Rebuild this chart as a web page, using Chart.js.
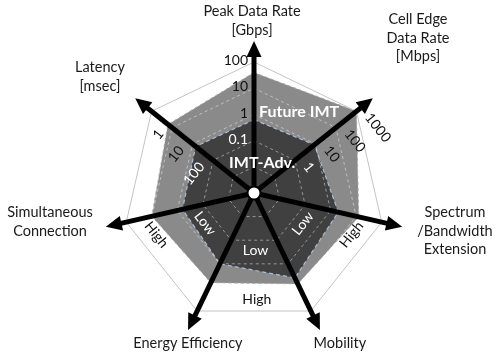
<!DOCTYPE html>
<html>
<head>
<meta charset="utf-8">
<script src="https://cdn.jsdelivr.net/npm/chart.js@4.4.0/dist/chart.umd.min.js"></script>
<style>
  html, body { margin: 0; padding: 0; background: #fff; }
  #wrap { width: 500px; height: 354px; position: relative; }
</style>
</head>
<body>
<div id="wrap"><canvas id="radar"></canvas></div>
<script>
// axis names, clockwise from the top arrow
const axisLabels = [
  ['Peak Data Rate', '[Gbps]'],
  ['Cell Edge', 'Data Rate', '[Mbps]'],
  ['Spectrum', '/Bandwidth', 'Extension'],
  ['Mobility'],
  ['Energy Efficiency'],
  ['Simultaneous', 'Connection'],
  ['Latency', '[msec]']
];

// values on the 0..5 ring scale
const futureIMT = [4.6, 5.0, 4.1, 3.85, 3.8, 4.0, 4.2];
const imtAdvanced = [2.8, 2.95, 3.3, 3.6, 3.0, 2.8, 2.85];

// tick labels of the numeric axes, ring 2 outward
const peakTicks = ['0.1', '1', '10', '100'];
const cellEdgeTicks = ['1', '10', '100', '1000'];
const latencyTicks = ['100', '10', '1'];
const levelTicks = ['Low', 'High'];

// layout of the overlay texts (label centres in units of the radius)
const labelSpots = [
  [-0.015, -1.313], [1.252, -1.183], [1.534, 0.29], [0.656, 1.145],
  [-0.504, 1.145], [-1.557, 0.221], [-1.176, -0.885]
];
const levelPairs = [
  { sector: 2, fracs: [0.37, 0.2] },
  { sector: 3, fracs: [0.47, 0.47] },
  { sector: 4, fracs: [0.63, 0.8] }
];
const levelRings = [2.2, 4.05];
const nameSpots = [{ angle: 29, level: 3.55 }, { angle: 15, level: 1.2 }];

const FONT = 'Lato, "Noto Sans", sans-serif';

function drawAxisTicks(chart, idx, ticks, side, gap, shift) {
  const s = chart.scales.r;
  const ctx = chart.ctx;
  ctx.save();
  ctx.translate(s.xCenter, s.yCenter);
  ctx.rotate(s.getIndexAngle(idx));
  ctx.font = '14px ' + FONT;
  ctx.textBaseline = 'middle';
  ctx.textAlign = side < 0 ? 'right' : 'left';
  ticks.forEach((t, k) => {
    const level = k + 2;
    ctx.fillStyle = level < imtAdvanced[idx] ? '#fff' : '#111';
    ctx.fillText(t, side * gap, -s.getDistanceFromCenterForValue(level + shift));
  });
  ctx.restore();
}

const overlay = {
  id: 'overlay',
  afterDraw(chart) {
    const s = chart.scales.r;
    const ctx = chart.ctx;
    const R = s.drawingArea;
    const xc = s.xCenter, yc = s.yCenter;

    // tick labels
    drawAxisTicks(chart, 0, peakTicks, -1, 6, 0.05);
    drawAxisTicks(chart, 1, cellEdgeTicks, 1, 10, 0.25);
    drawAxisTicks(chart, 6, latencyTicks, -1, 10, 0.25);

    ctx.save();
    ctx.font = '14px ' + FONT;
    ctx.textAlign = 'center';
    ctx.textBaseline = 'middle';
    levelPairs.forEach(p => {
      const a0 = s.getIndexAngle(p.sector);
      const a1 = s.getIndexAngle(p.sector + 1);
      levelTicks.forEach((t, k) => {
        const a = a0 + p.fracs[k] * (a1 - a0);
        const r = s.getDistanceFromCenterForValue(levelRings[k]);
        ctx.save();
        ctx.translate(xc + r * Math.sin(a), yc - r * Math.cos(a));
        ctx.rotate((a0 + a1) / 2 - Math.PI);
        ctx.fillStyle = k === 0 ? '#fff' : '#111';
        ctx.fillText(t, 0, 0);
        ctx.restore();
      });
    });
    ctx.restore();

    // arrows
    ctx.save();
    ctx.fillStyle = '#000';
    ctx.strokeStyle = '#000';
    ctx.lineWidth = 5;
    for (let i = 0; i < axisLabels.length; i++) {
      const tip = R * 1.16;
      ctx.save();
      ctx.translate(xc, yc);
      ctx.rotate(s.getIndexAngle(i));
      ctx.beginPath();
      ctx.moveTo(0, 0);
      ctx.lineTo(0, -(tip - 12));
      ctx.stroke();
      ctx.beginPath();
      ctx.moveTo(0, -tip);
      ctx.lineTo(-7.5, -(tip - 16));
      ctx.lineTo(7.5, -(tip - 16));
      ctx.closePath();
      ctx.fill();
      ctx.restore();
    }
    ctx.beginPath();
    ctx.arc(xc, yc, 6.5, 0, Math.PI * 2);
    ctx.fillStyle = '#fff';
    ctx.fill();
    ctx.lineWidth = 2;
    ctx.stroke();
    ctx.restore();

    // names of the two areas, above the arrows
    ctx.save();
    ctx.fillStyle = '#fff';
    ctx.font = 'bold 16px ' + FONT;
    ctx.textAlign = 'center';
    ctx.textBaseline = 'middle';
    chart.data.datasets.forEach(ds => {
      const spot = nameSpots[ds.spot];
      const a = spot.angle * Math.PI / 180;
      const r = s.getDistanceFromCenterForValue(spot.level);
      ctx.fillText(ds.label, xc + r * Math.sin(a), yc - r * Math.cos(a));
    });
    ctx.restore();

    // axis names
    ctx.save();
    ctx.font = '14.5px ' + FONT;
    ctx.fillStyle = '#1a1a1a';
    ctx.textAlign = 'center';
    ctx.textBaseline = 'middle';
    axisLabels.forEach((lines, i) => {
      const x = xc + labelSpots[i][0] * R;
      const y = yc + labelSpots[i][1] * R;
      const lh = 18.5;
      lines.forEach((line, k) => {
        ctx.fillText(line, x, y + (k - (lines.length - 1) / 2) * lh);
      });
    });
    ctx.restore();
  }
};

new Chart(document.getElementById('radar'), {
  type: 'radar',
  data: {
    labels: axisLabels,
    datasets: [
      {
        label: 'IMT-Adv.',
        spot: 1,
        data: imtAdvanced,
        fill: 'origin',
        backgroundColor: '#404040',
        borderColor: '#a9bcd8',
        borderWidth: 1.2,
        borderDash: [4, 3],
        pointRadius: 0
      },
      {
        label: 'Future IMT',
        spot: 0,
        data: futureIMT,
        fill: 'origin',
        backgroundColor: '#8a8a8a',
        borderColor: '#a8a8a8',
        borderWidth: 1,
        borderDash: [3, 3],
        pointRadius: 0
      }
    ]
  },
  options: {
    responsive: true,
    maintainAspectRatio: false,
    animation: false,
    layout: { padding: { left: 123, top: 62, right: 115, bottom: 30 } },
    plugins: {
      legend: { display: false },
      tooltip: { enabled: false }
    },
    scales: {
      r: {
        min: 0,
        max: 5,
        ticks: { stepSize: 1, display: false },
        pointLabels: { display: false },
        angleLines: { display: false },
        grid: {
          z: 1,
          color: c => c.index === 5 ? '#c4c4c4' : 'rgba(255,255,255,0.45)',
          lineWidth: 1
        },
        border: {
          dash: c => c.index === 5 ? [] : [3, 3]
        }
      }
    }
  },
  plugins: [overlay]
});
</script>
</body>
</html>
